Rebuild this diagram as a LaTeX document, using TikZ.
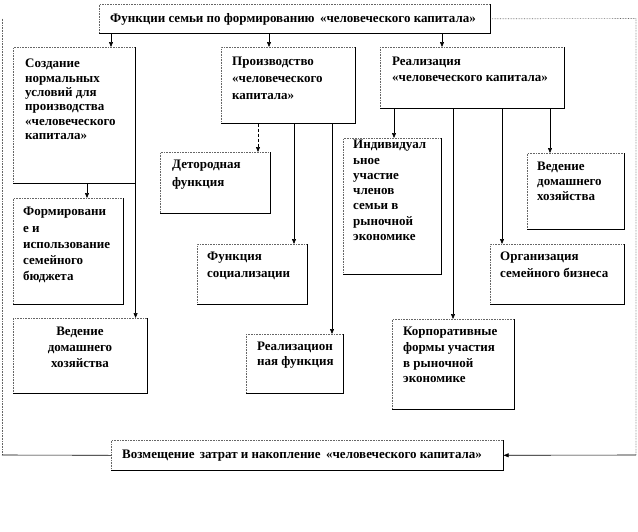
\documentclass[tikz,border=0pt]{standalone}
\usepackage{fontspec}
\setmainfont{Liberation Serif}
\usetikzlibrary{arrows.meta}
\begin{document}
\begin{tikzpicture}[x=1pt,y=-1pt,
  box/.style={draw=black!60, densely dotted, line width=0.6pt, anchor=north west, inner sep=0pt},
  lbl/.style={anchor=north west, align=left, inner sep=0pt},
  fs/.style={font=\bfseries\fontsize{13}{#1}\selectfont},
  arr/.style={-{Triangle[length=5pt,width=4pt]}, line width=0.6pt},
  dasharr/.style={arr, densely dashed},
  frame/.style={line width=0.6pt, draw=black!60, densely dotted},
  rim/.style={line width=0.6pt, solid}]
\useasboundingbox (0,0) rectangle (638,531);
% boxes
\node[box, minimum width=391pt, minimum height=29pt] (top) at (99,4) {};
\node[box, minimum width=122pt, minimum height=136pt] (A) at (13,47) {};
\node[box, minimum width=134pt, minimum height=76pt] (B) at (221,47) {};
\node[box, minimum width=184pt, minimum height=61pt] (C) at (380,47) {};
\node[box, minimum width=110pt, minimum height=61pt] (Det) at (160,152) {};
\node[box, minimum width=110pt, minimum height=106pt] (Form) at (13,198) {};
\node[box, minimum width=134pt, minimum height=75pt] (VedL) at (13,318) {};
\node[box, minimum width=110pt, minimum height=60pt] (Soc) at (197,244) {};
\node[box, minimum width=97pt, minimum height=59pt] (Real) at (246,334) {};
\node[box, minimum width=98pt, minimum height=136pt] (Ind) at (343,138) {};
\node[box, minimum width=97pt, minimum height=76pt] (VedR) at (527,153) {};
\node[box, minimum width=134pt, minimum height=60pt] (Org) at (490,244) {};
\node[box, minimum width=122pt, minimum height=90pt] (Korp) at (392,319) {};
\node[box, minimum width=392pt, minimum height=30pt] (bot) at (111,440) {};
% solid right and bottom edges
\foreach \n in {top,A,B,C,Det,Form,VedL,Soc,Real,Ind,VedR,Org,Korp,bot}
  \draw[rim] (\n.north east) -- (\n.south east) -- (\n.south west);
% labels
\node[lbl, fs=14, anchor=west] (tTop) at (110,19) {Функции семьи по формированию \,«человеческого капитала»};
\node[lbl, fs=14, anchor=west] (tBot) at (122,455.5) {Возмещение \,затрат и накопление \,«человеческого капитала»};
\node[lbl, fs=14.3] (tA) at (25,59) {Создание\\нормальных\\условий для\\производства\\«человеческого\\капитала»};
\node[lbl, fs=16.7] (tB) at (232,57) {Производство\\«человеческого\\капитала»};
\node[lbl, fs=16] (tC) at (392,57) {Реализация\\«человеческого капитала»};
\node[lbl, fs=18] (tDet) at (172,160) {Детородная\\функция};
\node[lbl, fs=15.3] (tInd) at (353,140) {Индивидуал\\ьное\\участие\\членов\\семьи в\\рыночной\\экономике};
\node[lbl, fs=15] (tVedR) at (537,162) {Ведение\\домашнего\\хозяйства};
\node[lbl, fs=17] (tOrg) at (500,252) {Организация\\семейного бизнеса};
\node[lbl, fs=15.7] (tKorp) at (403,327) {Корпоративные\\формы участия\\в рыночной\\экономике};
\node[lbl, fs=17] (tSoc) at (207,252) {Функция\\социализации};
\node[lbl, fs=15] (tReal) at (257,342) {Реализацион\\ная функция};
\node[lbl, fs=16.3] (tForm) at (23,207) {Формировани\\е и\\использование\\семейного\\бюджета};
\node[lbl, fs=16, anchor=north, align=center] (tVedL) at (80,327) {Ведение\\домашнего\\хозяйства};
% connectors from top
\draw[arr] (top.south -| 111,0) -- (A.north -| 111,0);
\draw[arr] (top.south -| 269,0) -- (B.north -| 269,0);
\draw[arr] (top.south -| 442,0) -- (C.north -| 442,0);
% from A
\draw[arr] (A.south -| 87,0) -- (Form.north -| 87,0);
\draw[arr] (A.south east) -- (VedL.north -| A.south east);
% from B
\draw[dasharr] (B.south -| 258,0) -- (Det.north -| 258,0);
\draw[arr] (B.south -| 294,0) -- (Soc.north -| 294,0);
\draw[arr] (B.south -| 332,0) -- (Real.north -| 332,0);
% from C
\draw[arr] (C.south -| 394,0) -- (Ind.north -| 394,0);
\draw[arr] (C.south -| 453,0) -- (Korp.north -| 453,0);
\draw[arr] (C.south -| 502,0) -- (Org.north -| 502,0);
\draw[arr] (C.south -| 550,0) -- (VedR.north -| 550,0);
% outer loop
\coordinate (tr) at (636,18.5);
\coordinate (br) at (636,455);
\coordinate (tl) at (2,18.5);
\coordinate (bl) at (2,455);
\draw[frame] (top.east) -- (tr) -- (br);
\draw[arr] (br) -- (bot.east);
\draw[frame] (tl) -- (bl);
\draw[line width=0.6pt] (bl) -- (bot.west);
\end{tikzpicture}
\end{document}
